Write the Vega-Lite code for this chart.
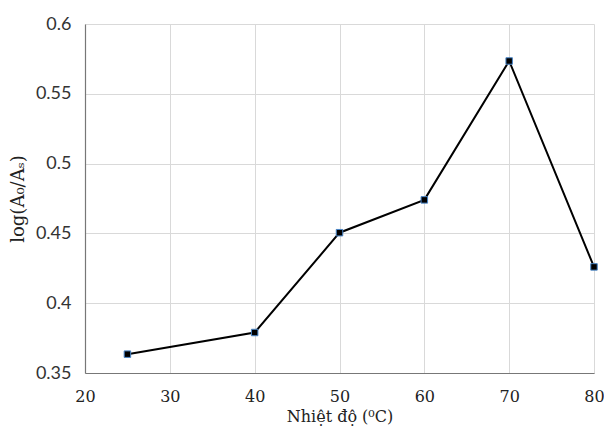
{
  "$schema": "https://vega.github.io/schema/vega-lite/v6.json",
  "autosize": "none",
  "width": 509,
  "height": 349,
  "padding": {"left": 85, "top": 24, "right": 10, "bottom": 55},
  "background": "white",
  "config": {
    "view": {"stroke": null}
  },
  "data": {
    "values": [
      {"t": 25, "v": 0.3635},
      {"t": 40, "v": 0.379},
      {"t": 50, "v": 0.4505},
      {"t": 60, "v": 0.474},
      {"t": 70, "v": 0.5735},
      {"t": 80, "v": 0.426}
    ]
  },
  "layer": [
    {
      "mark": {"type": "line", "color": "black", "strokeWidth": 2},
      "encoding": {
        "x": {"field": "t", "type": "quantitative"},
        "y": {"field": "v", "type": "quantitative"}
      }
    },
    {
      "mark": {"type": "point", "shape": "square", "filled": true, "fill": "black", "stroke": "#4a86c8", "strokeWidth": 1, "size": 42, "opacity": 1},
      "encoding": {
        "x": {
          "field": "t", "type": "quantitative",
          "scale": {"domain": [20, 80], "nice": false, "zero": false},
          "axis": {
            "title": "Nhiệt độ (⁰C)", "titleFont": "DejaVu Serif", "titleFontSize": 16, "titleFontWeight": "normal", "titleColor": "#222", "titlePadding": 4,
            "values": [20, 30, 40, 50, 60, 70, 80],
            "labelFont": "DejaVu Serif", "labelFontSize": 16, "labelColor": "#222", "labelPadding": 15, "labelFlush": false,
            "ticks": false, "domainColor": "#777", "domainWidth": 1.2,
            "grid": true, "gridColor": "#d9d9d9", "gridWidth": 1
          }
        },
        "y": {
          "field": "v", "type": "quantitative",
          "scale": {"domain": [0.35, 0.6], "nice": false, "zero": false},
          "axis": {
            "title": "log(A₀/Aₛ)", "titleFont": "DejaVu Serif", "titleFontSize": 18, "titleFontWeight": "normal", "titleColor": "#222", "titlePadding": 8,
            "values": [0.35, 0.4, 0.45, 0.5, 0.55, 0.6],
            "labelFont": "Lato", "labelFontSize": 18, "labelColor": "#333", "labelPadding": 14, "labelFlush": false,
            "labelExpr": "format(datum.value, '.2~f')",
            "ticks": false, "domainColor": "#777", "domainWidth": 1.2,
            "grid": true, "gridColor": "#d9d9d9", "gridWidth": 1
          }
        }
      }
    }
  ]
}
